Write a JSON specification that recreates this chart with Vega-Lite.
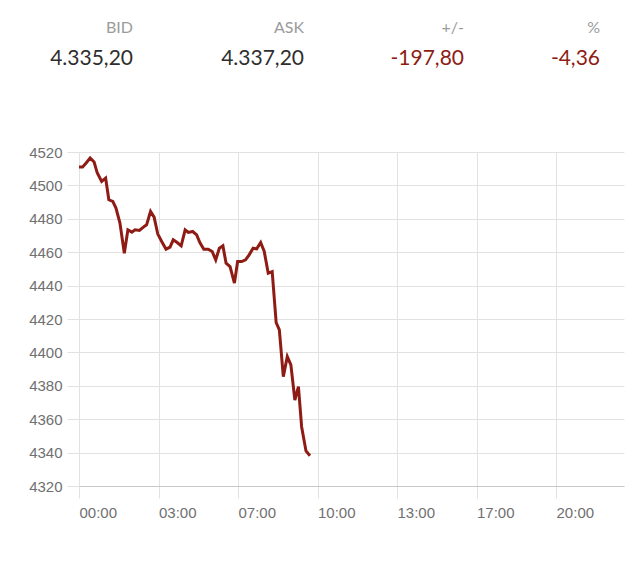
{
  "$schema": "https://vega.github.io/schema/vega-lite/v6.json",
  "background": "white",
  "padding": {"left": 28, "top": 0, "right": 12, "bottom": 10},
  "bounds": "flush",
  "spacing": 20,
  "config": {"view": {"stroke": null}, "font": "Liberation Sans"},
  "vconcat": [
    {
      "width": 545,
      "height": 132,
      "view": {"fill": "white", "stroke": null},
      "data": {"values": [
        {"col": "BID", "label": "BID", "value": "4.335,20"},
        {"col": "ASK", "label": "ASK", "value": "4.337,20"},
        {"col": "+/-", "label": "+/-", "value": "-197,80"},
        {"col": "%", "label": "%", "value": "-4,36"}
      ]},
      "transform": [{"window": [{"op": "row_number", "as": "i"}]}],
      "encoding": {
        "x": {"field": "i", "type": "quantitative", "scale": {"domain": [1, 2, 3, 4], "range": [54, 225, 385, 521], "zero": false, "nice": false}, "axis": null}
      },
      "layer": [
        {
          "mark": {"type": "text", "align": "right", "baseline": "alphabetic", "font": "Lato", "fontSize": 16, "color": "#9b9b9b"},
          "encoding": {
            "y": {"datum": "label", "type": "ordinal", "scale": {"domain": ["label", "value"], "range": [33, 65], "padding": 0}, "axis": null},
            "text": {"field": "label"}
          }
        },
        {
          "mark": {"type": "text", "align": "right", "baseline": "alphabetic", "font": "Lato", "fontSize": 21},
          "encoding": {
            "y": {"datum": "value", "type": "ordinal"},
            "text": {"field": "value"},
            "color": {"condition": {"test": "datum.col === '+/-' || datum.col === '%'", "value": "#8e1c14"}, "value": "#2e2e2e"}
          }
        }
      ]
    },
    {
      "width": 545,
      "height": 334,
      "data": {"values": [
        {"t": 0, "p": 4511}, {"t": 9, "p": 4511}, {"t": 18, "p": 4513.4}, {"t": 28, "p": 4516.4},
        {"t": 38, "p": 4514}, {"t": 46, "p": 4507.4}, {"t": 57, "p": 4502.4}, {"t": 67, "p": 4504.4},
        {"t": 75, "p": 4491.4}, {"t": 85, "p": 4490.4}, {"t": 93, "p": 4486.4}, {"t": 103, "p": 4477.4},
        {"t": 114, "p": 4459.4}, {"t": 123, "p": 4473.4}, {"t": 133, "p": 4472}, {"t": 141, "p": 4473.4},
        {"t": 152, "p": 4473}, {"t": 162, "p": 4475}, {"t": 170, "p": 4476.4}, {"t": 180, "p": 4484.4},
        {"t": 189, "p": 4481}, {"t": 198, "p": 4471}, {"t": 208, "p": 4466.4}, {"t": 219, "p": 4461.8},
        {"t": 229, "p": 4463}, {"t": 237, "p": 4467.4}, {"t": 247, "p": 4465.8}, {"t": 257, "p": 4463.8},
        {"t": 267, "p": 4473.4}, {"t": 275, "p": 4471.8}, {"t": 286, "p": 4472.4}, {"t": 296, "p": 4470.4},
        {"t": 304, "p": 4465.8}, {"t": 314, "p": 4461.8}, {"t": 325, "p": 4461.8}, {"t": 335, "p": 4460.4},
        {"t": 344, "p": 4455.4}, {"t": 353, "p": 4462.4}, {"t": 362, "p": 4463.8}, {"t": 370, "p": 4453.4},
        {"t": 380, "p": 4451.4}, {"t": 391, "p": 4441.5}, {"t": 399, "p": 4454.4}, {"t": 409, "p": 4454.4},
        {"t": 419, "p": 4455.4}, {"t": 428, "p": 4458.4}, {"t": 438, "p": 4462.4}, {"t": 447, "p": 4462},
        {"t": 457, "p": 4465.8}, {"t": 466, "p": 4460.4}, {"t": 476, "p": 4447.4}, {"t": 486, "p": 4448.4},
        {"t": 496, "p": 4417.8}, {"t": 504, "p": 4413.5}, {"t": 514, "p": 4385.5}, {"t": 524, "p": 4397.5},
        {"t": 533, "p": 4392.5}, {"t": 543, "p": 4371.5}, {"t": 552, "p": 4379.5}, {"t": 560, "p": 4355.5},
        {"t": 571, "p": 4341}, {"t": 581, "p": 4338.1}
      ]},
      "mark": {"type": "line", "color": "#8e1c14", "strokeWidth": 3, "strokeJoin": "miter"},
      "encoding": {
        "x": {
          "field": "t", "type": "quantitative",
          "scale": {"domain": [0, 1371], "nice": false, "zero": false},
          "axis": {
            "title": null, "values": [0, 200, 400, 600, 800, 1000, 1200],
            "labelExpr": "(datum.value < 600 ? '0' : '') + round(datum.value / 60) + ':00'",
            "grid": true, "gridColor": "#e2e2e2", "tickSize": 12, "tickColor": "#e2e2e2",
            "domainColor": "#c8c8c8", "labelAlign": "left", "labelBaseline": "top", "labelPadding": 7,
            "labelFontSize": 15, "labelColor": "#707070", "labelFlush": false
          }
        },
        "y": {
          "field": "p", "type": "quantitative",
          "scale": {"domain": [4320, 4520], "nice": false, "zero": false},
          "axis": {
            "title": null, "format": "d", "values": [4320, 4340, 4360, 4380, 4400, 4420, 4440, 4460, 4480, 4500, 4520],
            "grid": true, "gridColor": "#e2e2e2", "tickSize": 12, "tickColor": "#e2e2e2", "domain": false,
            "labelPadding": 5, "labelFontSize": 15, "labelColor": "#707070"
          }
        }
      }
    }
  ]
}
